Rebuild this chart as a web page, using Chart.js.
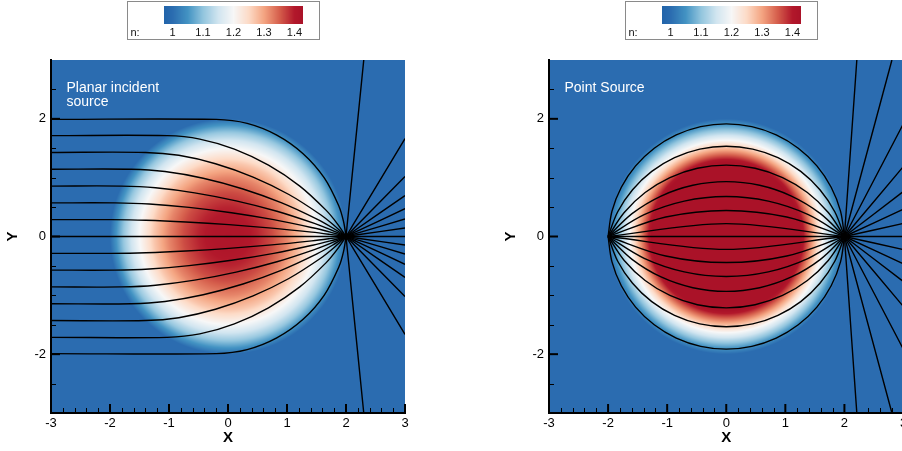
<!DOCTYPE html>
<html>
<head>
<meta charset="utf-8">
<script src="https://cdn.jsdelivr.net/npm/chart.js@4.4.1/dist/chart.umd.min.js"></script>
<style>
  html, body { margin: 0; padding: 0; background: #fff; overflow: hidden; width: 902px; height: 451px; }
  #wrapL { position: absolute; left: 0; top: 0; width: 451px; height: 451px; }
  #wrapR { position: absolute; left: 451px; top: 0; width: 470px; height: 451px; }
  canvas { display: block; }
</style>
</head>
<body>
<div id="wrapL"><canvas id="luneburg" width="451" height="451"></canvas></div>
<div id="wrapR"><canvas id="fisheye" width="470" height="451"></canvas></div>
<script>
// ---- axes ----
const axisMin = -3, axisMax = 3;
const xMajorTicks = [-3, -2, -1, 0, 1, 2, 3];
const xMinorTicks = [-2.8, -2.6, -2.4, -2.2, -1.8, -1.6, -1.4, -1.2, -0.8, -0.6, -0.4, -0.2,
                     0.2, 0.4, 0.6, 0.8, 1.2, 1.4, 1.6, 1.8, 2.2, 2.4, 2.6, 2.8];
const yMajorTicks = [-2, 0, 2];
const yMinorTicks = [-2.5, -1.5, -1, -0.5, 0.5, 1, 1.5, 2.5];

// ---- colour scale for the refractive index n ----
const colorbarTicks = [1, 1.1, 1.2, 1.3, 1.4];
const cmapLevels = [0.97, 1.0, 1.05, 1.1, 1.15, 1.2, 1.25, 1.3, 1.35, 1.4, 1.43];
const cmapColors = [
  [33, 100, 170], [43, 108, 176], [67, 147, 195], [146, 197, 222], [209, 229, 240],
  [247, 247, 247], [253, 219, 199], [244, 165, 130], [214, 96, 77], [178, 24, 43], [170, 18, 40]
];

// ---- radial index profiles of the two lenses (radius -> n) ----
const luneburgRadius = [0, 0.25, 0.5, 0.75, 1.0, 1.25, 1.5, 1.75, 1.9, 1.95, 2.0];
const luneburgIndex  = [1.414, 1.409, 1.392, 1.364, 1.323, 1.269, 1.199, 1.111, 1.048, 1.024, 1.0];
const fisheyeRadius  = [0, 0.5, 1.0, 1.2, 1.3, 1.4, 1.5, 1.6, 1.7, 1.8, 1.9, 2.0];
const fisheyeIndex   = [2.0, 1.882, 1.6, 1.471, 1.406, 1.342, 1.28, 1.22, 1.161, 1.105, 1.051, 1.0];

// ---- rays through the planar-incidence lens (upper half; lower half is its mirror) ----
const planarRaysUpper = [
  [[-3, 1.99], [-0.200, 1.99], [0.325, 1.922], [0.827, 1.723], [1.273, 1.407], [1.632, 0.995], [1.880, 0.515], [1.957, 0.260], [2, 0], [2.020, -0.199], [2.301, -3]],
  [[-3, 1.714], [-1.030, 1.714], [-0.478, 1.656], [0.108, 1.485], [0.686, 1.212], [1.217, 0.857], [1.665, 0.444], [1.848, 0.224], [2, 0], [2.103, -0.171], [3, -1.664]],
  [[-3, 1.429], [-1.400, 1.429], [-0.834, 1.380], [-0.212, 1.237], [0.425, 1.010], [1.032, 0.714], [1.570, 0.370], [1.800, 0.187], [2, 0], [2.140, -0.143], [3, -1.021]],
  [[-3, 1.143], [-1.641, 1.143], [-1.068, 1.104], [-0.421, 0.990], [0.254, 0.808], [0.911, 0.571], [1.507, 0.296], [1.769, 0.149], [2, 0], [2.164, -0.114], [3, -0.696]],
  [[-3, 0.857], [-1.807, 0.857], [-1.228, 0.828], [-0.565, 0.742], [0.137, 0.606], [0.829, 0.429], [1.464, 0.222], [1.747, 0.112], [2, 0], [2.181, -0.086], [3, -0.474]],
  [[-3, 0.571], [-1.917, 0.571], [-1.334, 0.552], [-0.660, 0.495], [0.059, 0.404], [0.774, 0.286], [1.436, 0.148], [1.733, 0.075], [2, 0], [2.192, -0.057], [3, -0.298]],
  [[-3, 0.286], [-1.980, 0.286], [-1.394, 0.276], [-0.714, 0.247], [0.015, 0.202], [0.742, 0.143], [1.420, 0.074], [1.725, 0.037], [2, 0], [2.198, -0.029], [3, -0.144]]
];
const planarAxisRay = [[-3, 0], [3, 0]];

// ---- rays from the point source (upper half arcs, then straight exits past the image point) ----
const sourceArcsUpper = [
  [[-2, 0], [0, 0.219], [2, 0]],
  [[-2, 0], [-1.024, 0.331], [0, 0.443], [1.024, 0.331], [2, 0]],
  [[-2, 0], [-1.389, 0.371], [-0.711, 0.601], [0, 0.679], [0.711, 0.601], [1.389, 0.371], [2, 0]],
  [[-2, 0], [-1.589, 0.393], [-1.103, 0.688], [-0.565, 0.871], [0, 0.933], [0.565, 0.871], [1.103, 0.688], [1.589, 0.393], [2, 0]],
  [[-2, 0], [-1.727, 0.408], [-1.373, 0.748], [-0.953, 1.002], [-0.488, 1.160], [0, 1.214], [0.488, 1.160], [0.953, 1.002], [1.373, 0.748], [1.727, 0.408], [2, 0]],
  [[-2, 0], [-1.837, 0.420], [-1.586, 0.795], [-1.261, 1.107], [-0.875, 1.341], [-0.448, 1.486], [0, 1.535], [0.448, 1.486], [0.875, 1.341], [1.261, 1.107], [1.586, 0.795], [1.837, 0.420], [2, 0]],
  [[-2, 0], [-1.934, 0.431], [-1.776, 0.837], [-1.534, 1.200], [-1.219, 1.501], [-0.846, 1.727], [-0.433, 1.867], [0, 1.915], [0.433, 1.867], [0.846, 1.727], [1.219, 1.501], [1.534, 1.200], [1.776, 0.837], [1.934, 0.431], [2, 0]]
];
const sourceExitEndsUpper = [[3, -0.222], [3, -0.466], [3, -0.767], [3, -1.192], [3, -1.921], [2.804, -3], [2.210, -3]];
const imagePoint = [2, 0];
const sourceAxisRay = [[-2, 0], [3, 0]];

// ---- helpers ----
const mirror = path => path.map(([x, y]) => [x, -y]);

function profileAt(rs, ns, r) {
  if (r >= rs[rs.length - 1]) return ns[ns.length - 1];
  for (let i = 1; i < rs.length; i++) {
    if (r <= rs[i]) {
      const t = (r - rs[i - 1]) / (rs[i] - rs[i - 1]);
      return ns[i - 1] + (ns[i] - ns[i - 1]) * t;
    }
  }
  return ns[ns.length - 1];
}

function colorFor(n) {
  if (n <= cmapLevels[0]) return cmapColors[0];
  for (let i = 1; i < cmapLevels.length; i++) {
    if (n <= cmapLevels[i]) {
      const t = (n - cmapLevels[i - 1]) / (cmapLevels[i] - cmapLevels[i - 1]);
      const a = cmapColors[i - 1], b = cmapColors[i];
      return [a[0] + (b[0] - a[0]) * t, a[1] + (b[1] - a[1]) * t, a[2] + (b[2] - a[2]) * t];
    }
  }
  return cmapColors[cmapColors.length - 1];
}

function rayDataset(path) {
  return {
    data: path.map(([x, y]) => ({ x, y })),
    showLine: true,
    borderColor: '#000',
    borderWidth: 1.4,
    pointRadius: 0,
    tension: 0.34,
    fill: false
  };
}

// ---- plugins ----
// index field painted under everything, pixel by pixel through the scales
const lensField = {
  id: 'lensField',
  beforeDraw(chart, args, opts) {
    const { ctx, chartArea: a, scales: { x, y } } = chart;
    const x0 = Math.floor(a.left), y0 = Math.floor(a.top);
    const w = Math.ceil(a.right) - x0, h = Math.ceil(a.bottom) - y0;
    const img = ctx.createImageData(w, h);
    for (let j = 0; j < h; j++) {
      const yv = y.getValueForPixel(y0 + j + 0.5);
      for (let i = 0; i < w; i++) {
        const xv = x.getValueForPixel(x0 + i + 0.5);
        const c = colorFor(profileAt(opts.radius, opts.index, Math.hypot(xv, yv)));
        const k = (j * w + i) * 4;
        img.data[k] = c[0]; img.data[k + 1] = c[1]; img.data[k + 2] = c[2]; img.data[k + 3] = 255;
      }
    }
    ctx.putImageData(img, x0, y0);
  }
};

// inward major/minor tick marks on the bottom and left axes
const tickMarks = {
  id: 'tickMarks',
  afterDraw(chart) {
    const { ctx, chartArea: a, scales: { x, y } } = chart;
    ctx.save();
    ctx.strokeStyle = '#000';
    const mark = (x1, y1, x2, y2, w) => {
      ctx.lineWidth = w; ctx.beginPath(); ctx.moveTo(x1, y1); ctx.lineTo(x2, y2); ctx.stroke();
    };
    xMajorTicks.forEach(v => { const p = x.getPixelForValue(v); mark(p, a.bottom, p, a.bottom - 9, 2); });
    xMinorTicks.forEach(v => { const p = Math.round(x.getPixelForValue(v)) + 0.5; mark(p, a.bottom, p, a.bottom - 5, 1); });
    yMajorTicks.forEach(v => { const p = y.getPixelForValue(v); mark(a.left, p, a.left + 9, p, 2); });
    yMinorTicks.forEach(v => { const p = Math.round(y.getPixelForValue(v)) + 0.5; mark(a.left, p, a.left + 5, p, 1); });
    ctx.restore();
  }
};

// colour legend above each panel
const colorLegend = {
  id: 'colorLegend',
  afterDraw(chart) {
    const { ctx, chartArea: a } = chart;
    const boxL = Math.round(a.left) + 76.5, boxT = 1.5, boxW = 192, boxH = 38;
    const stripL = Math.round(a.left) + 113, stripR = Math.round(a.left) + 252, stripT = 6, stripB = 24;
    const v0x = Math.round(a.left) + 121.5, perUnit = 305;
    ctx.save();
    ctx.fillStyle = '#fff';
    ctx.fillRect(boxL, boxT, boxW, boxH);
    for (let px = stripL; px < stripR; px++) {
      const c = colorFor(1 + (px + 0.5 - v0x) / perUnit);
      ctx.fillStyle = `rgb(${c[0] | 0},${c[1] | 0},${c[2] | 0})`;
      ctx.fillRect(px, stripT, 1, stripB - stripT);
    }
    ctx.strokeStyle = '#8a8a8a';
    ctx.lineWidth = 1;
    ctx.strokeRect(boxL, boxT, boxW, boxH);
    ctx.fillStyle = '#111';
    ctx.font = "11px 'Liberation Sans', Arial, sans-serif";
    ctx.textBaseline = 'middle';
    ctx.textAlign = 'left';
    ctx.fillText('n:', boxL + 3, 33);
    ctx.textAlign = 'center';
    colorbarTicks.forEach(v => ctx.fillText(String(v), v0x + (v - 1) * perUnit, 33));
    ctx.restore();
  }
};

// caption inside the plot
const caption = {
  id: 'caption',
  afterDraw(chart, args, opts) {
    const { ctx, chartArea: a } = chart;
    ctx.save();
    ctx.fillStyle = '#fff';
    ctx.font = "14px 'Liberation Sans', Arial, sans-serif";
    ctx.textBaseline = 'alphabetic';
    ctx.textAlign = 'left';
    opts.lines.forEach((t, i) => ctx.fillText(t, a.left + 15.5, a.top + 31.5 + i * 14));
    ctx.restore();
  }
};

Chart.defaults.font.family = "'Liberation Sans', Arial, Helvetica, sans-serif";
Chart.defaults.color = '#000';

function axis(dir, majors, leftPad) {
  const base = {
    type: 'linear',
    min: axisMin,
    max: axisMax,
    grid: { display: false, drawTicks: false },
    border: { display: true, color: '#000', width: 2 },
    afterBuildTicks: s => { s.ticks = majors.map(v => ({ value: v })); },
    ticks: {
      autoSkip: false, maxRotation: 0,
      font: { size: 13 },
      color: '#000',
      callback: v => String(v)
    }
  };
  if (dir === 'x') {
    base.position = 'bottom';
    base.ticks.padding = 3;
    base.title = { display: true, text: 'X', font: { size: 15, weight: 'bold' }, padding: { top: 0, bottom: 4 } };
    base.afterFit = s => { s.height = 38; };
  } else {
    base.position = 'left';
    base.ticks.padding = 5;
    base.title = { display: true, text: 'Y', font: { size: 15, weight: 'bold' }, padding: { top: 4, bottom: 0 } };
    base.afterFit = s => { s.width = 51; };
  }
  return base;
}

function makeChart(id, datasets, profile, lines, pad) {
  return new Chart(document.getElementById(id), {
    type: 'scatter',
    data: { datasets },
    options: {
      responsive: false,
      devicePixelRatio: 1,
      animation: false,
      events: [],
      layout: { padding: pad },
      scales: { x: axis('x', xMajorTicks), y: axis('y', yMajorTicks) },
      plugins: {
        legend: { display: false },
        tooltip: { enabled: false },
        lensField: profile,
        caption: { lines }
      }
    },
    plugins: [lensField, tickMarks, colorLegend, caption]
  });
}

// planar incident source through the graded lens
const planarPaths = [
  ...planarRaysUpper,
  ...planarRaysUpper.map(mirror),
  planarAxisRay
];
makeChart('luneburg', planarPaths.map(rayDataset),
  { radius: luneburgRadius, index: luneburgIndex },
  ['Planar incident', 'source'],
  { left: 0, top: 60, right: 46, bottom: 0 });

// point source imaged across the lens
const exitPaths = sourceExitEndsUpper.map(e => [imagePoint, e]);
const sourcePaths = [
  ...sourceArcsUpper,
  ...sourceArcsUpper.map(mirror),
  ...exitPaths,
  ...exitPaths.map(mirror),
  sourceAxisRay
];
makeChart('fisheye', sourcePaths.map(rayDataset),
  { radius: fisheyeRadius, index: fisheyeIndex },
  ['Point Source'],
  { left: 47, top: 60, right: 17.5, bottom: 0 });
</script>
</body>
</html>
